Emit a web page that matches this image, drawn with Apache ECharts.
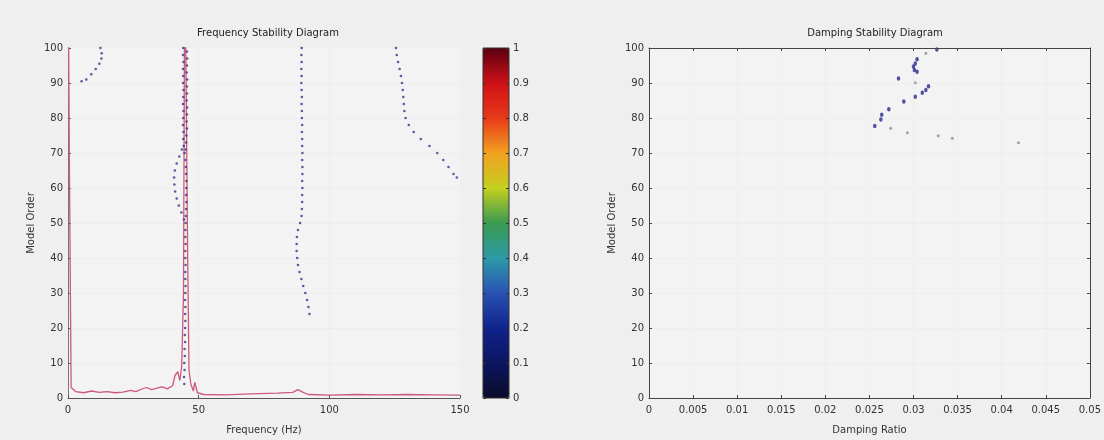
<!DOCTYPE html>
<html>
<head>
<meta charset="utf-8">
<script src="https://cdn.jsdelivr.net/npm/echarts@6/dist/echarts.min.js"></script>
<style>
html,body{margin:0;padding:0;background:#efefef;}
#c{width:1104px;height:440px;}
</style>
</head>
<body>
<div id="c"></div>
<script>
// ---------- DATA ----------
// Spectrum (red curve) : frequency (Hz) and scaled amplitude
const specFreq = [0, 0.6, 1.2, 3, 6, 9, 12, 15, 18, 21, 24, 26, 28, 30, 32, 34, 36, 38, 40, 41, 42, 42.8, 43.5, 44.2, 44.7, 45.3, 45.8, 46.3, 47, 48, 48.5, 49.5, 52, 60, 70, 80, 86, 88, 90, 92, 100, 110, 120, 130, 140, 150];
const specAmp  = [130, 60, 3, 1.8, 1.5, 2, 1.6, 1.8, 1.5, 1.7, 2.2, 1.8, 2.5, 3, 2.4, 2.8, 3.2, 2.6, 3.5, 6.5, 7.5, 5, 9, 30, 130, 130, 40, 8, 4, 2, 4.5, 1.5, 1, 0.9, 1.2, 1.4, 1.6, 2.4, 1.6, 1, 0.8, 1, 0.9, 1, 0.9, 0.8];

// Stable poles [frequency, model order]
const poleLow = [[12.4,100],[12.9,98.5],[12.8,97],[12.0,95.5],[10.6,94],[8.9,92.5],[7.0,91],[5.2,90.5]];
const pole45a = [[44.1,100],[44.0,98],[44.2,96],[44.0,94],[44.1,92],[44.0,90],[44.2,88],[44.1,86],[44.0,84],[44.2,82],
  [44.1,80],[44.0,78],[44.2,76],[44.1,74],[44.3,72],[44.6,70],[44.9,68],[45.1,66],[45.2,64],[45.3,62],
  [45.3,60],[45.2,58],[45.3,56],[45.2,54],[45.1,52],[45.0,50],[44.9,48],[44.9,46],[45.0,44],[44.9,42],
  [44.9,40],[45.0,38],[44.9,36],[44.9,34],[45.0,32],[44.9,30],[44.8,28],[44.9,26],[44.8,24],[44.9,22],
  [44.8,20],[44.7,18],[44.8,16],[44.6,14],[44.7,12],[44.5,10],[44.6,8],[44.4,6],[44.5,4]];
const pole45b = [[45.5,99],[45.6,97],[45.5,95],[45.4,93],[45.6,91],[45.5,89],[45.5,87],[45.4,85],[45.6,83],[45.5,81],[45.4,79],[45.5,77],[45.3,75],[45.2,73],[45.0,71]];
const pole45branch = [[43.6,71],[42.6,69],[41.6,67],[40.9,65],[40.6,63],[40.7,61],[41.0,59],[41.6,57],[42.4,55],[43.4,53],[44.4,51]];
const pole89 = [[89.4,100],[89.3,98],[89.4,96],[89.3,94],[89.4,92],[89.3,90],[89.4,88],[89.5,86],[89.4,84],[89.5,82],
  [89.5,80],[89.6,78],[89.5,76],[89.6,74],[89.6,72],[89.7,70],[89.6,68],[89.7,66],[89.7,64],[89.6,62],
  [89.7,60],[89.6,58],[89.6,56],[89.5,54],[89.4,52],[88.8,50],[88.0,48],[87.6,46],[87.5,44],[87.5,42],
  [87.7,40],[88.0,38],[88.6,36],[89.3,34],[90.0,32],[90.8,30],[91.5,28],[92.0,26],[92.4,24]];
const pole130 = [[125.5,100],[125.8,98],[126.3,96],[126.9,94],[127.4,92],[127.8,90],[128.1,88],[128.3,86],[128.5,84],[128.7,82],
  [129.2,80],[130.4,78],[132.3,76],[135.0,74],[138.3,72],[141.3,70],[143.6,68],[145.6,66],[147.5,64],[148.8,63]];

// Damping diagram [damping ratio, model order]
const dampStable = [[0.03265,99.6],[0.0304,96.8],[0.0302,95.6],[0.0300,94.7],[0.0301,93.7],[0.0304,93.2],[0.0283,91.3],[0.0317,89.1],[0.0314,88.0],[0.0310,87.2],[0.0302,86.1],[0.0289,84.7],[0.0272,82.5],[0.0264,80.9],[0.0263,79.6],[0.0256,77.7]];
const dampOther = [[0.0314,98.5],[0.0302,90.1],[0.0274,77.1],[0.0293,75.8],[0.0328,74.9],[0.0344,74.2],[0.0419,72.9]];

// Colour bar
const cbarColors = ['#0a0a28','#0c1660','#10228c','#2a52b2','#2c9aa8','#3a9a50','#c4d020','#f2a020','#e83a18','#cf1018','#5a0010'];

// ---------- CHART ----------
const FONT = 'DejaVu Sans';
const lab = {fontSize: 10, color: '#333', fontFamily: FONT};
const gridLine = {show: true, showMinLine: false, showMaxLine: false, lineStyle: {color: '#e9e9e9', type: 'dotted', width: 1}};
const chart = echarts.init(document.getElementById('c'));
const poleStyle = {color: '#35358c'};
const poleSeries = (d) => ({type: 'scatter', xAxisIndex: 0, yAxisIndex: 0, data: d, symbol: 'circle', symbolSize: 2.6, itemStyle: poleStyle, z: 5, silent: true});

chart.setOption({
  backgroundColor: '#efefef',
  animation: false,
  title: [
    {text: 'Frequency Stability Diagram', left: 263, top: 23, textAlign: 'center', textStyle: {fontSize: 10, fontWeight: 'normal', color: '#222', fontFamily: FONT}},
    {text: 'Damping Stability Diagram', left: 870, top: 23, textAlign: 'center', textStyle: {fontSize: 10, fontWeight: 'normal', color: '#222', fontFamily: FONT}}
  ],
  grid: [
    {left: 68, top: 48, width: 392, height: 350, show: true, backgroundColor: '#f3f3f3', borderWidth: 0},
    {left: 483, top: 48, width: 26, height: 350, show: true, backgroundColor: 'transparent', borderColor: '#333', borderWidth: 1, z: 6},
    {left: 649, top: 48, width: 443, height: 350, show: true, backgroundColor: '#f3f3f3', borderWidth: 0}
  ],
  visualMap: {
    type: 'continuous', min: 0, max: 1, seriesIndex: 7, left: 483, top: 48, itemWidth: 26, itemHeight: 350, padding: 0, z: 2,
    calculable: false, inRange: {color: cbarColors}, text: null
  },
  xAxis: [
    {gridIndex: 0, type: 'value', min: 0, max: 150, interval: 50, name: 'Frequency (Hz)', nameLocation: 'middle', nameGap: 27, nameTextStyle: lab,
      axisLine: {onZero: false, lineStyle: {color: '#555'}}, axisTick: {inside: true, length: 3, lineStyle: {color: '#555'}}, axisLabel: Object.assign({margin: 7}, lab), splitLine: gridLine},
    {gridIndex: 1, type: 'value', min: 0, max: 1, show: false},
    {gridIndex: 2, type: 'value', min: 0, max: 0.05, interval: 0.005, name: 'Damping Ratio', nameLocation: 'middle', nameGap: 27, nameTextStyle: lab,
      axisLine: {onZero: false, lineStyle: {color: '#444'}}, axisTick: {inside: true, length: 3, lineStyle: {color: '#444'}},
      axisLabel: Object.assign({margin: 7, formatter: v => String(+v.toFixed(3))}, lab), splitLine: gridLine},
    {gridIndex: 2, type: 'value', min: 0, max: 0.05, interval: 0.005, position: 'top', z: 8,
      axisLine: {show: true, onZero: false, lineStyle: {color: '#444'}}, axisTick: {show: true, inside: true, length: 3, lineStyle: {color: '#444'}}, axisLabel: {show: false}, splitLine: {show: false}}
  ],
  yAxis: [
    {gridIndex: 0, type: 'value', min: 0, max: 100, interval: 10, name: 'Model Order', nameLocation: 'middle', nameGap: 32, nameTextStyle: lab,
      axisLine: {show: true, onZero: false, lineStyle: {color: '#777'}}, axisTick: {show: true, inside: true, length: 3, lineStyle: {color: '#555'}}, axisLabel: Object.assign({margin: 5}, lab), splitLine: gridLine},
    {gridIndex: 1, type: 'value', min: 0, max: 1, interval: 0.1, position: 'right', z: 8,
      axisLine: {show: false, onZero: false}, axisTick: {show: true, inside: true, length: 3, lineStyle: {color: '#333'}}, axisLabel: Object.assign({margin: 4}, lab), splitLine: {show: false}},
    {gridIndex: 1, type: 'value', min: 0, max: 1, interval: 0.1, position: 'left', z: 8,
      axisLine: {show: false, onZero: false}, axisTick: {show: true, inside: true, length: 3, lineStyle: {color: '#333'}}, axisLabel: {show: false}, splitLine: {show: false}},
    {gridIndex: 2, type: 'value', min: 0, max: 100, interval: 10, name: 'Model Order', nameLocation: 'middle', nameGap: 32, nameTextStyle: lab,
      axisLine: {show: true, onZero: false, lineStyle: {color: '#444'}}, axisTick: {show: true, inside: true, length: 3, lineStyle: {color: '#444'}}, axisLabel: Object.assign({margin: 5}, lab), splitLine: gridLine},
    {gridIndex: 2, type: 'value', min: 0, max: 100, interval: 10, position: 'right', z: 8,
      axisLine: {show: true, onZero: false, lineStyle: {color: '#444'}}, axisTick: {show: true, inside: true, length: 3, lineStyle: {color: '#444'}}, axisLabel: {show: false}, splitLine: {show: false}}
  ],
  series: [
    poleSeries(poleLow),
    poleSeries(pole45a),
    poleSeries(pole45b),
    poleSeries(pole45branch),
    poleSeries(pole89),
    poleSeries(pole130),
    {type: 'line', xAxisIndex: 0, yAxisIndex: 0, data: specFreq.map((f, i) => [f, specAmp[i]]), showSymbol: false, clip: true,
      lineStyle: {color: '#cc5a78', width: 1.3}, z: 3, silent: true},
    {type: 'scatter', xAxisIndex: 1, yAxisIndex: 1, data: []},
    {type: 'scatter', xAxisIndex: 2, yAxisIndex: 3, data: dampOther, symbol: 'circle', symbolSize: 3, itemStyle: {color: '#8c8c9a'}, silent: true},
    {type: 'scatter', xAxisIndex: 2, yAxisIndex: 3, data: dampStable, symbol: 'circle', symbolSize: [3.5, 4.5], itemStyle: {color: '#28288f'}, silent: true}
  ]
});
</script>
</body>
</html>
